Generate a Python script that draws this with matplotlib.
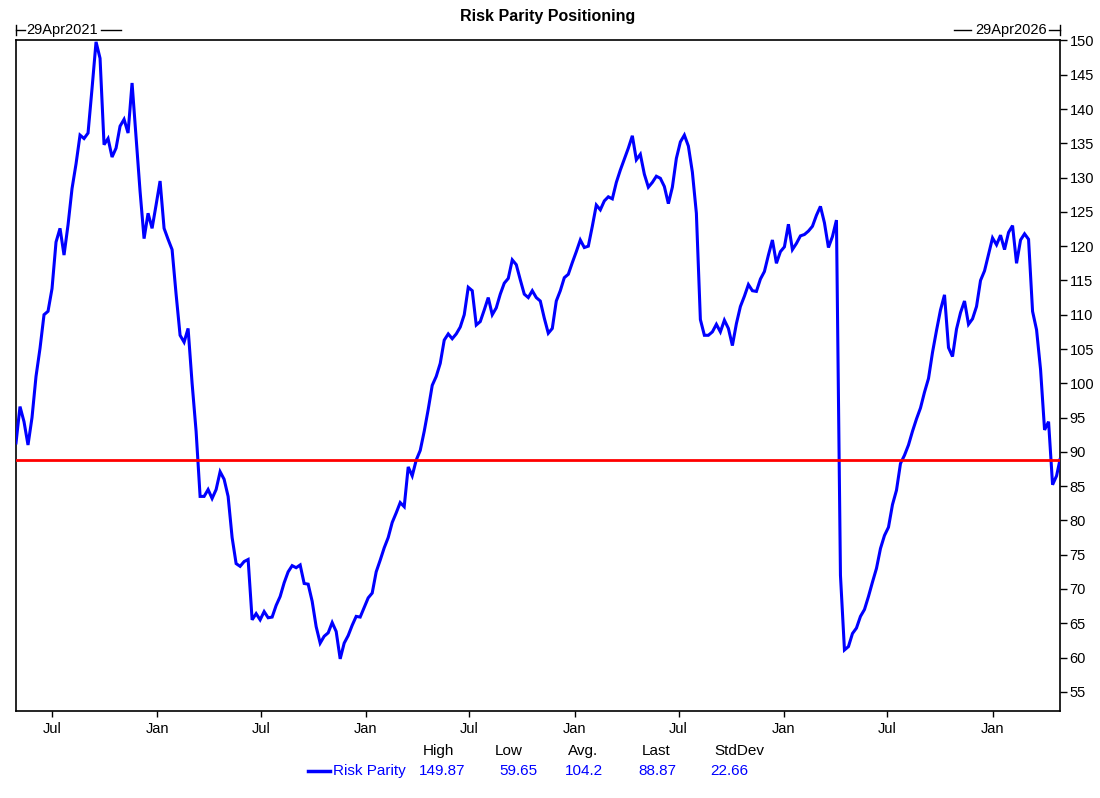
import matplotlib
matplotlib.use("Agg")
import matplotlib.pyplot as plt
import matplotlib.dates as mdates
from matplotlib.lines import Line2D
import pandas as pd

plt.rcParams['font.family'] = ['Liberation Sans', 'DejaVu Sans']

title = "Risk Parity Positioning"
series_name = "Risk Parity"
start_label = "29Apr2021"
end_label = "29Apr2026"
start_date = "2021-04-29"
end_date = "2026-04-29"

# weekly readings (Thursdays from 29 Apr 2021), then the final print on 29 Apr 2026
weekly_values = [
    91.3, 96.6, 94.4, 91.0, 95.0, 101.0, 105.1, 110.0, 110.5, 113.8,
    120.6, 122.6, 118.7, 123.1, 128.4, 132.0, 136.2, 135.7, 136.5, 143.0,
    149.8, 147.4, 134.8, 135.7, 133.0, 134.3, 137.5, 138.5, 136.5, 143.8,
    136.0, 128.0, 121.1, 124.8, 122.6, 126.0, 129.5, 122.6, 121.0, 119.5,
    113.0, 107.0, 106.0, 108.0, 100.0, 93.0, 83.5, 83.5, 84.5, 83.2,
    84.5, 87.1, 86.0, 83.5, 77.5, 73.7, 73.3, 74.0, 74.3, 65.5,
    66.4, 65.5, 66.7, 65.8, 65.9, 67.6, 68.9, 70.9, 72.5, 73.4,
    73.1, 73.5, 70.8, 70.7, 68.2, 64.5, 62.1, 63.1, 63.6, 65.1,
    63.8, 59.8, 62.1, 63.2, 64.7, 66.0, 65.9, 67.3, 68.7, 69.4,
    72.5, 74.2, 76.0, 77.5, 79.7, 81.1, 82.6, 82.0, 87.8, 86.5,
    88.8, 90.2, 93.0, 96.2, 99.7, 101.0, 102.9, 106.3, 107.2, 106.5,
    107.2, 108.2, 110.0, 114.0, 113.5, 108.5, 109.0, 110.7, 112.5, 110.0,
    111.0, 113.0, 114.6, 115.3, 118.0, 117.3, 115.1, 113.0, 112.5, 113.5,
    112.5, 112.0, 109.5, 107.3, 108.0, 112.0, 113.5, 115.4, 115.9, 117.6,
    119.2, 120.9, 119.8, 120.0, 122.9, 126.0, 125.3, 126.6, 127.2, 126.9,
    129.3, 131.1, 132.7, 134.3, 136.1, 132.6, 133.4, 130.5, 128.6, 129.3,
    130.2, 129.9, 128.7, 126.2, 128.6, 132.8, 135.2, 136.2, 134.6, 130.8,
    124.8, 109.3, 107.0, 107.0, 107.5, 108.6, 107.5, 109.2, 108.0, 105.5,
    108.7, 111.2, 112.7, 114.4, 113.5, 113.4, 115.2, 116.3, 118.7, 120.9,
    117.5, 119.2, 119.9, 123.2, 119.5, 120.4, 121.5, 121.7, 122.2, 122.9,
    124.5, 125.8, 123.4, 119.8, 121.4, 123.8, 72.0, 61.1, 61.6, 63.5,
    64.3, 66.0, 67.0, 68.9, 71.0, 73.0, 75.9, 77.8, 79.0, 82.3,
    84.4, 88.3, 89.5, 91.0, 93.0, 94.8, 96.4, 98.7, 100.7, 104.5,
    107.7, 110.7, 112.9, 105.2, 103.9, 107.9, 110.3, 112.0, 108.6, 109.4,
    111.2, 115.0, 116.4, 118.8, 121.2, 120.2, 121.6, 119.5, 122.0, 123.0,
    117.5, 120.9, 121.8, 121.0, 110.5, 107.8, 102.0, 93.2, 94.4, 85.2,
    86.5,
]
last_value = 88.87

stat_names = ["High", "Low", "Avg.", "Last", "StdDev"]
stat_values = ["149.87", "59.65", "104.2", "88.87", "22.66"]

y_ticks = list(range(55, 151, 5))

dates = list(pd.date_range(start_date, periods=len(weekly_values), freq="7D")) + [pd.Timestamp(end_date)]
values = weekly_values + [last_value]

W, H = 1100, 798
fig = plt.figure(figsize=(W / 100, H / 100), dpi=100)


def fx(x):
    return x / W


def fy(y):
    return 1 - y / H


ax = fig.add_axes([fx(16), fy(711), fx(1060) - fx(16), fy(40) - fy(711)])

BLUE = "#0000ff"
ax.plot(dates, values, color=BLUE, lw=2.2, solid_joinstyle="miter", zorder=3)
ax.axhline(last_value, color="#ff0000", lw=2.0, zorder=4)

ax.set_xlim(pd.Timestamp(start_date), pd.Timestamp(end_date))
ax.set_ylim(52.2, 150.07)

ax.yaxis.tick_right()
ax.set_yticks(y_ticks)
ax.set_yticklabels([str(v) for v in y_ticks])
ax.tick_params(axis="y", direction="out", length=5, width=1, pad=2, labelsize=10.5, colors="black")

ax.xaxis.set_major_locator(mdates.MonthLocator(bymonth=[1, 7], bymonthday=1))
ax.xaxis.set_major_formatter(mdates.DateFormatter("%b"))
ax.tick_params(axis="x", direction="out", length=4, width=1, pad=4, labelsize=10.5, colors="black")
ax.minorticks_off()

for s in ax.spines.values():
    s.set_linewidth(1.2)
    s.set_color("black")

# title
fig.text(fx(548), fy(17), title, ha="center", va="center", fontsize=11.5, fontweight="bold")

# date range markers
fig.text(fx(26), fy(30), start_label, ha="left", va="center", fontsize=10.5)
fig.add_artist(Line2D([fx(16), fx(16)], [fy(25), fy(35)], color="black", lw=1.0))
fig.add_artist(Line2D([fx(16), fx(25)], [fy(30), fy(30)], color="black", lw=1.0))
fig.add_artist(Line2D([fx(101), fx(121)], [fy(30), fy(30)], color="black", lw=1.0))

fig.text(fx(1047), fy(30), end_label, ha="right", va="center", fontsize=10.5)
fig.add_artist(Line2D([fx(954), fx(971)], [fy(30), fy(30)], color="black", lw=1.0))
fig.add_artist(Line2D([fx(1049), fx(1060)], [fy(30), fy(30)], color="black", lw=1.0))
fig.add_artist(Line2D([fx(1060), fx(1060)], [fy(25), fy(35)], color="black", lw=1.0))

# statistics legend
fig.add_artist(Line2D([fx(308), fx(330)], [fy(771), fy(771)], color=BLUE, lw=2.5))
fig.text(fx(333), fy(771), series_name, ha="left", va="center", fontsize=11, color=BLUE)
head_x = [423, 495, 568, 642, 714]
val_x = [419, 499, 565, 638, 710]
for name, val, hx, vx in zip(stat_names, stat_values, head_x, val_x):
    fig.text(fx(hx), fy(751), name, ha="left", va="center", fontsize=11, color="black")
    fig.text(fx(vx), fy(771), val, ha="left", va="center", fontsize=11, color=BLUE)

fig.savefig("out.png", dpi=100)
